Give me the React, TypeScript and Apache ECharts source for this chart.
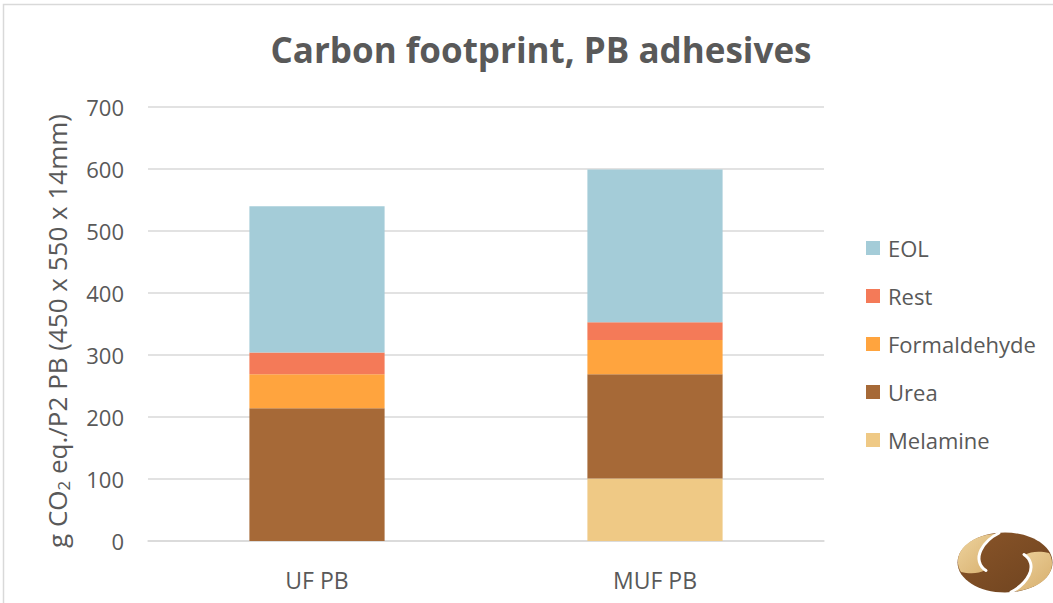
import React, { useEffect, useRef } from "react";
import * as echarts from "echarts";

const categories = ["UF PB", "MUF PB"];
const melamine = [0, 101];
const urea = [214, 168];
const formaldehyde = [55, 55];
const rest = [35, 29];
const eol = [236, 246];
const yTicks = { min: 0, max: 700, interval: 100 };

const FONT = "'Open Sans', 'Noto Sans', sans-serif";
const TXT = "#595959";

echarts.graphic.registerShape(
  "logoTanTL",
  echarts.graphic.extendPath(
    "M 40 1.5 C 18 3 2 14 1 28 C 0.5 33 2 37 4 40 C 12 42 22 42 28 38 C 22 34 20 26 24 18 C 28 10 34 5 42 2 Z",
    {}
  )
);
echarts.graphic.registerShape(
  "logoTanBR",
  echarts.graphic.extendPath(
    "M 56 59.5 C 78 58 94 47 95 33 C 95.5 28 94 24 92 21 C 84 19 74 19 68 23 C 74 27 76 35 72 43 C 68 51 62 56 54 59 Z",
    {}
  )
);
echarts.graphic.registerShape(
  "logoGapTL",
  echarts.graphic.extendPath("M 29 38.5 C 22 34 20 26 24 18 C 28 10 34 5 42 1", {})
);
echarts.graphic.registerShape(
  "logoGapBR",
  echarts.graphic.extendPath("M 67 22.5 C 74 27 76 35 72 43 C 68 51 62 56 54 60", {})
);

export default function App() {
  const ref = useRef<HTMLDivElement>(null);
  useEffect(() => {
    if (!ref.current) return;
    const chart = echarts.init(ref.current, null, { renderer: "svg" });
    const mk = (name: string, data: number[], color: string) => ({
      name,
      type: "bar",
      stack: "total",
      data,
      barWidth: "40%",
      itemStyle: { color },
      emphasis: { disabled: true },
    });
    const tanGrad = () =>
      new echarts.graphic.LinearGradient(0, 0, 1, 1, [
        { offset: 0, color: "#EED49E" },
        { offset: 1, color: "#D6AD6C" },
      ]);
    chart.setOption({
      animation: false,
      backgroundColor: "#ffffff",
      title: {
        text: "Carbon footprint, PB adhesives",
        left: 536,
        textAlign: "center",
        top: 27,
        textStyle: { fontFamily: FONT, fontWeight: "bold", fontSize: 35, color: TXT },
      },
      grid: { left: 148, right: 229, top: 107, bottom: 62 },
      legend: {
        orient: "vertical",
        left: 866,
        top: 236.5,
        padding: 0,
        itemWidth: 14,
        itemHeight: 14,
        itemGap: 25,
        icon: "rect",
        data: ["EOL", "Rest", "Formaldehyde", "Urea", "Melamine"],
        textStyle: { fontFamily: FONT, fontSize: 22, color: TXT, lineHeight: 23, padding: [0, 0, 0, 3] },
      },
      xAxis: {
        type: "category",
        data: categories,
        axisLine: { lineStyle: { color: "#D9D9D9", width: 1.5 } },
        axisTick: { show: false },
        axisLabel: { fontFamily: FONT, fontSize: 23, color: TXT, margin: 27 },
      },
      yAxis: {
        type: "value",
        min: yTicks.min,
        max: yTicks.max,
        interval: yTicks.interval,
        axisLine: { show: false },
        axisTick: { show: false },
        splitLine: { lineStyle: { color: "#D9D9D9", width: 1.5 } },
        axisLabel: { fontFamily: FONT, fontSize: 22, color: TXT, margin: 24 },
        name: "g CO{sub|2} eq./P2 PB (450 x 550 x 14mm)",
        nameLocation: "middle",
        nameGap: 76,
        nameTextStyle: {
          fontFamily: FONT,
          fontSize: 26,
          color: TXT,
          padding: [0, 14, 0, 0],
          rich: {
            sub: { fontFamily: FONT, fontSize: 17, color: TXT, verticalAlign: "bottom", padding: [14, 0, 0, 0] },
          },
        },
      },
      series: [
        mk("Melamine", melamine, "#EFC985"),
        mk("Urea", urea, "#A66937"),
        mk("Formaldehyde", formaldehyde, "#FFA43E"),
        mk("Rest", rest, "#F47A58"),
        mk("EOL", eol, "#A4CCD8"),
      ],
      graphic: [
        {
          type: "rect",
          silent: true,
          shape: { x: 3.5, y: 4.5, width: 1200, height: 800 },
          style: { fill: "none", stroke: "#D9D9D9", lineWidth: 1.5 },
        },
        {
          type: "group",
          x: 957,
          y: 532,
          silent: true,
          children: [
            {
              type: "ellipse",
              shape: { cx: 48, cy: 30.5, rx: 47.5, ry: 30 },
              style: {
                fill: new echarts.graphic.LinearGradient(0, 0, 1, 1, [
                  { offset: 0, color: "#8A5529" },
                  { offset: 1, color: "#6E431F" },
                ]),
              },
            },
            { type: "logoTanTL", style: { fill: tanGrad() } },
            { type: "logoTanBR", style: { fill: tanGrad() } },
            { type: "logoGapTL", style: { fill: "none", stroke: "#ffffff", lineWidth: 3, lineCap: "round" } },
            { type: "logoGapBR", style: { fill: "none", stroke: "#ffffff", lineWidth: 3, lineCap: "round" } },
          ],
        },
      ],
    });
    return () => chart.dispose();
  }, []);
  return (
    <div
      ref={ref}
      style={{ position: "fixed", left: 0, top: 0, width: 1053, height: 603 }}
    />
  );
}
